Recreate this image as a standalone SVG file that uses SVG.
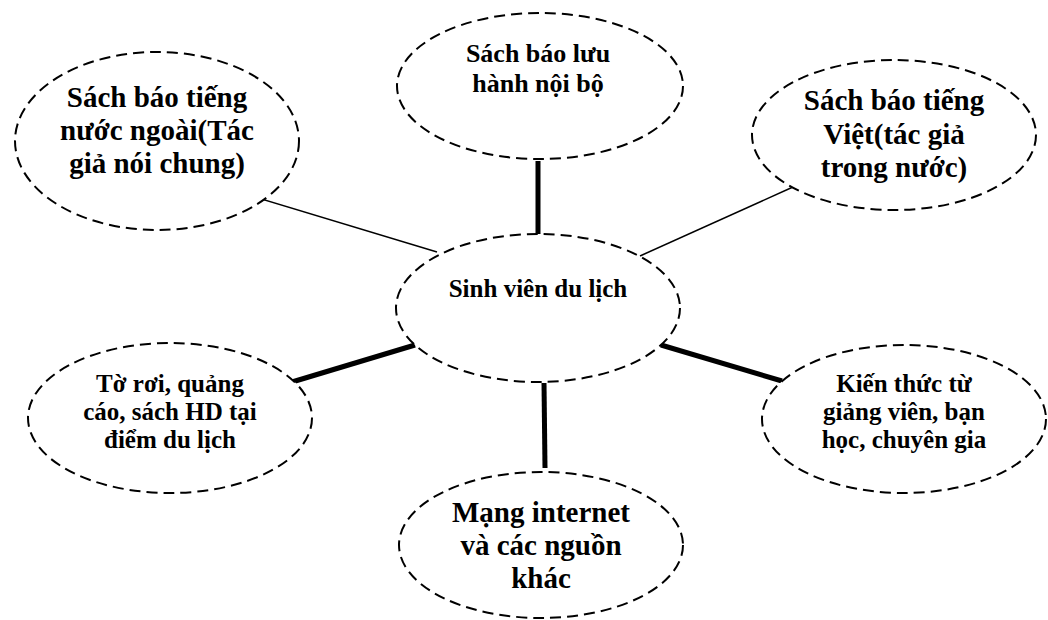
<svg xmlns="http://www.w3.org/2000/svg" width="1048" height="620" viewBox="0 0 1048 620">
<style>
.n{fill:#fff;stroke:#000;stroke-width:2;stroke-dasharray:11 6}
.t{font-family:"Liberation Serif","Times New Roman",serif;font-weight:bold;fill:#000;text-anchor:middle}
.thin{stroke:#000;stroke-width:1.5;fill:none}
.thick{stroke:#000;stroke-width:5;fill:none}
</style>
<rect width="1048" height="620" fill="#fff"/>
<g id="connectors">
<line class="thin" x1="228" y1="189" x2="437" y2="252"/>
<line class="thick" x1="538" y1="161" x2="538" y2="234"/>
<line class="thin" x1="640" y1="256" x2="793" y2="187"/>
<line class="thick" x1="292" y1="382" x2="415" y2="345"/>
<line class="thick" x1="544" y1="383" x2="545" y2="468"/>
<line class="thick" x1="661" y1="345" x2="782" y2="381"/>
</g>
<g id="node-nuoc-ngoai">
<ellipse class="n" cx="157" cy="141" rx="142" ry="89"/>
<text class="t" font-size="29"><tspan x="157" y="107">Sách báo tiếng</tspan><tspan x="157" y="140">nước ngoài(Tác</tspan><tspan x="157" y="173">giả nói chung)</tspan></text>
</g>
<g id="node-noi-bo">
<ellipse class="n" cx="540" cy="86" rx="143" ry="73"/>
<text class="t" font-size="26"><tspan x="538" y="62">Sách báo lưu</tspan><tspan x="538" y="92">hành nội bộ</tspan></text>
</g>
<g id="node-tieng-viet">
<ellipse class="n" cx="894" cy="135" rx="142" ry="75"/>
<text class="t" font-size="29"><tspan x="894" y="110">Sách báo tiếng</tspan><tspan x="894" y="144">Việt(tác giả</tspan><tspan x="894" y="177">trong nước)</tspan></text>
</g>
<g id="node-center">
<ellipse class="n" cx="538" cy="308" rx="142" ry="74"/>
<text class="t" font-size="25" x="538" y="297">Sinh viên du lịch</text>
</g>
<g id="node-to-roi">
<ellipse class="n" cx="170" cy="418" rx="142" ry="75"/>
<text class="t" font-size="25"><tspan x="170" y="392">Tờ rơi, quảng</tspan><tspan x="170" y="420">cáo, sách HD tại</tspan><tspan x="170" y="448">điểm du lịch</tspan></text>
</g>
<g id="node-internet">
<ellipse class="n" cx="541" cy="545" rx="142" ry="73"/>
<text class="t" font-size="29"><tspan x="541" y="522">Mạng internet</tspan><tspan x="541" y="555">và các nguồn</tspan><tspan x="541" y="588">khác</tspan></text>
</g>
<g id="node-kien-thuc">
<ellipse class="n" cx="904" cy="419" rx="142" ry="74"/>
<text class="t" font-size="25"><tspan x="904" y="392">Kiến thức từ</tspan><tspan x="904" y="420">giảng viên, bạn</tspan><tspan x="904" y="448">học, chuyên gia</tspan></text>
</g>
</svg>
